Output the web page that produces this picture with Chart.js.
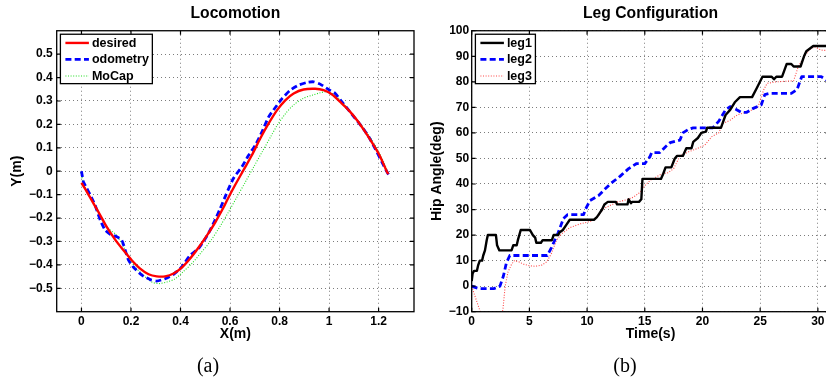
<!DOCTYPE html>
<html><head><meta charset="utf-8">
<script src="https://cdn.jsdelivr.net/npm/chart.js@4/dist/chart.umd.min.js"></script>
<style>
html,body{margin:0;padding:0;background:#fff;overflow:hidden;width:826px;height:383px;}
#wrap{position:relative;width:826px;height:383px;overflow:hidden;background:#fff;}
#c1{position:absolute;left:0;top:0;}
#c2{position:absolute;left:420px;top:0;}
.cap{position:absolute;font-family:"Liberation Serif","Times New Roman",serif;font-size:20px;line-height:20px;top:355px;transform:translateX(-50%);color:#000;white-space:nowrap;}
</style></head>
<body>
<div id="wrap">
<canvas id="c1" width="420" height="383"></canvas>
<canvas id="c2" width="420" height="383"></canvas>
<div class="cap" style="left:208px">(a)</div>
<div class="cap" style="left:625px">(b)</div>
</div>
<script>
// ---------- Locomotion (a) ----------
const locoTitle = 'Locomotion';
const locoXLabel = 'X(m)';
const locoYLabel = 'Y(m)';
const locoSeriesNames = ['desired', 'odometry', 'MoCap'];
const locoXTicks = [0, 0.2, 0.4, 0.6, 0.8, 1, 1.2];
const locoXTickLabels = ['0', '0.2', '0.4', '0.6', '0.8', '1', '1.2'];
const locoYTicks = [-0.5, -0.4, -0.3, -0.2, -0.1, 0, 0.1, 0.2, 0.3, 0.4, 0.5];
const locoYTickLabels = ['\u22120.5', '\u22120.4', '\u22120.3', '\u22120.2', '\u22120.1', '0', '0.1', '0.2', '0.3', '0.4', '0.5'];

const desiredX = [0, 0.022, 0.049, 0.076, 0.102, 0.136, 0.17, 0.203, 0.237, 0.271, 0.304, 0.338, 0.372, 0.405, 0.439, 0.473, 0.507, 0.541, 0.574, 0.587, 0.62, 0.654, 0.688, 0.722, 0.756, 0.79, 0.823, 0.857, 0.897, 0.944, 0.978, 1.012, 1.045, 1.079, 1.113, 1.146, 1.18, 1.207, 1.234, 1.24];
const desiredY = [-0.05, -0.088, -0.138, -0.188, -0.238, -0.292, -0.338, -0.38, -0.416, -0.44, -0.449, -0.449, -0.437, -0.412, -0.373, -0.326, -0.274, -0.217, -0.154, -0.126, -0.06, 0.004, 0.068, 0.14, 0.204, 0.261, 0.303, 0.332, 0.349, 0.352, 0.346, 0.328, 0.296, 0.261, 0.218, 0.168, 0.111, 0.061, -0.003, -0.012];

const odomX = [0, 0.004, 0.008, 0.022, 0.035, 0.055, 0.076, 0.096, 0.116, 0.143, 0.163, 0.177, 0.19, 0.21, 0.244, 0.278, 0.304, 0.338, 0.372, 0.405, 0.439, 0.473, 0.513, 0.537, 0.56, 0.584, 0.614, 0.648, 0.675, 0.702, 0.729, 0.756, 0.783, 0.81, 0.843, 0.877, 0.91, 0.937, 0.964, 0.998, 1.025, 1.052, 1.079, 1.106, 1.133, 1.16, 1.186, 1.213, 1.234, 1.247];
const odomY = [0, -0.024, -0.046, -0.074, -0.1, -0.145, -0.209, -0.252, -0.269, -0.28, -0.295, -0.338, -0.38, -0.41, -0.444, -0.463, -0.469, -0.459, -0.44, -0.409, -0.359, -0.33, -0.265, -0.214, -0.16, -0.1, -0.03, 0.019, 0.068, 0.111, 0.168, 0.232, 0.272, 0.31, 0.346, 0.368, 0.379, 0.382, 0.372, 0.349, 0.332, 0.296, 0.261, 0.225, 0.189, 0.147, 0.097, 0.04, -0.003, -0.027];

const mocapX = [-0.004, 0.015, 0.042, 0.076, 0.109, 0.143, 0.17, 0.19, 0.217, 0.25, 0.284, 0.311, 0.345, 0.379, 0.41, 0.445, 0.48, 0.52, 0.56, 0.594, 0.628, 0.662, 0.696, 0.73, 0.764, 0.791, 0.824, 0.856, 0.895, 0.933, 0.964, 0.991, 1.025, 1.058, 1.092, 1.126, 1.16, 1.193, 1.22, 1.24];
const mocapY = [-0.005, -0.067, -0.124, -0.195, -0.245, -0.274, -0.323, -0.366, -0.409, -0.444, -0.473, -0.48, -0.473, -0.459, -0.43, -0.395, -0.352, -0.3, -0.235, -0.174, -0.11, -0.046, 0.019, 0.083, 0.147, 0.197, 0.246, 0.282, 0.311, 0.325, 0.335, 0.339, 0.325, 0.289, 0.246, 0.204, 0.154, 0.097, 0.04, -0.01];

// ---------- Leg Configuration (b) ----------
const legTitle = 'Leg Configuration';
const legXLabel = 'Time(s)';
const legYLabel = 'Hip Angle(deg)';
const legSeriesNames = ['leg1', 'leg2', 'leg3'];
const legXTicks = [0, 5, 10, 15, 20, 25, 30];
const legXTickLabels = ['0', '5', '10', '15', '20', '25', '30'];
const legYTicks = [-10, 0, 10, 20, 30, 40, 50, 60, 70, 80, 90, 100];
const legYTickLabels = ['\u221210', '0', '10', '20', '30', '40', '50', '60', '70', '80', '90', '100'];

const leg1T = [0, 0.08, 0.2, 0.45, 0.55, 0.7, 0.9, 1.0, 1.15, 1.3, 1.4, 2.1, 2.2, 2.4, 3.45, 3.6, 3.9, 4.0, 4.25, 5.05, 5.3, 5.5, 5.6, 6.0, 6.15, 6.95, 7.1, 7.5, 7.6, 7.9, 8.2, 8.5, 10.6, 10.85, 11.0, 11.3, 11.5, 11.8, 12.5, 12.6, 13.5, 13.6, 13.8, 13.9, 14.5, 14.7, 14.8, 16.4, 16.6, 16.8, 17.3, 17.6, 17.8, 18.3, 18.6, 19.05, 19.2, 19.6, 19.9, 20.3, 20.4, 21.6, 22.0, 22.4, 22.8, 23.25, 24.3, 24.7, 25.2, 26.0, 26.2, 26.4, 26.9, 27.3, 27.7, 27.9, 28.5, 28.8, 29.0, 29.6, 31];
const leg1A = [2, 5, 6, 6, 8, 10, 10, 12, 14, 18, 20, 20, 16, 14, 14, 16, 16, 18, 22, 22, 20, 19, 17, 17, 18, 18, 20, 20, 21, 22, 24, 26, 26, 27, 28, 30, 32, 33, 33, 32, 32, 34, 32.5, 33, 33, 34, 42, 42, 44, 46.5, 46.5, 50, 51, 51, 54, 54, 56.5, 58, 60, 60.5, 62, 62, 67, 69, 72, 74, 74, 77.5, 82, 82, 81, 82, 82, 87, 87, 86, 86, 90, 92, 94, 94];

const leg2T = [0, 0.3, 0.7, 1.9, 2.45, 2.75, 3.0, 3.3, 6.55, 6.9, 7.5, 7.95, 8.3, 9.7, 9.85, 10.25, 11.0, 11.55, 12.0, 12.85, 13.6, 14.3, 15.0, 15.45, 15.6, 16.3, 16.8, 17.2, 18.05, 18.3, 18.8, 19.2, 20.9, 21.4, 22.0, 22.4, 23.0, 23.4, 23.8, 24.4, 25.1, 25.4, 25.85, 27.7, 28.2, 28.6, 30.3, 31];
const leg2A = [0, -0.5, -1, -1, 0, 4, 9, 12, 12, 15, 21, 26.5, 28, 28, 30, 33.5, 35.5, 38, 40, 43, 46, 48, 48, 50.7, 52.3, 52.3, 54.6, 56.2, 57.2, 60, 61.4, 62, 62, 64.5, 69, 70.3, 69, 68, 68, 69.6, 71, 75, 75.5, 75.5, 77, 82, 82, 80];

const leg3T = [0, 0.4, 0.7, 0.85, 2.5, 2.7, 2.9, 3.15, 3.45, 3.7, 4.1, 4.5, 5.0, 5.5, 6.05, 6.5, 6.9, 7.35, 7.8, 8.5, 9.4, 10.25, 10.6, 11.0, 11.4, 12.0, 12.6, 13.4, 14.0, 14.6, 15.0, 15.5, 16.5, 17.0, 17.5, 18.05, 18.8, 19.6, 20.2, 20.8, 21.4, 21.8, 22.4, 23.0, 23.7, 24.3, 24.8, 25.3, 25.6, 26.4, 27.9, 28.3, 28.8, 29.3, 29.7, 30.3, 31];
const leg3A = [0, -5.5, -9.4, -12, -12, -9.4, 0, 5.6, 8.5, 10, 9.5, 8.6, 8, 7.8, 8.2, 9.5, 12.7, 18, 20.5, 22.9, 24.4, 25.3, 26, 27.7, 30.3, 31.6, 32.9, 33.8, 34.8, 36.8, 39.4, 41.5, 44, 44.4, 46, 51, 52.6, 54, 55.2, 58.5, 60, 63.7, 65, 67, 68, 69, 70, 76.8, 79.4, 80, 80.4, 86, 89.8, 92.7, 93.7, 92.4, 92.2];

// ---------- helpers ----------
const pts = (xs, ys) => xs.map((x, i) => ({x: x, y: ys[i]}));
const FONT = '"Liberation Sans", Arial, Helvetica, sans-serif';

const matlabPlugin = {
  id: 'matlabBox',
  afterDatasetsDraw(chart) {
    const {ctx, chartArea: a, scales} = chart;
    ctx.save();
    ctx.strokeStyle = '#000';
    ctx.lineWidth = 1.2;
    ctx.setLineDash([]);
    const L = 4;
    ctx.beginPath();
    scales.x.ticks.forEach(t => {
      const px = scales.x.getPixelForValue(t.value);
      ctx.moveTo(px, a.bottom); ctx.lineTo(px, a.bottom - L);
      ctx.moveTo(px, a.top); ctx.lineTo(px, a.top + L);
    });
    scales.y.ticks.forEach(t => {
      const py = scales.y.getPixelForValue(t.value);
      ctx.moveTo(a.left, py); ctx.lineTo(a.left + L, py);
      ctx.moveTo(a.right, py); ctx.lineTo(a.right - L, py);
    });
    ctx.stroke();
    ctx.lineWidth = 1.3;
    ctx.strokeRect(a.left, a.top, a.right - a.left, a.bottom - a.top);
    ctx.restore();
  },
  afterDraw(chart) {
    const {ctx, chartArea: a} = chart;
    const ds = chart.data.datasets;
    ctx.save();
    ctx.font = 'bold 12.5px ' + FONT;
    const tw = Math.max(...ds.map(d => ctx.measureText(d.label).width));
    const bx = a.left + 3.7, by = a.top + 3.5, bw = 31.5 + tw + 3.5, bh = 49.4;
    ctx.fillStyle = '#fff';
    ctx.fillRect(bx, by, bw, bh);
    ctx.strokeStyle = '#000';
    ctx.lineWidth = 1.3;
    ctx.strokeRect(bx, by, bw, bh);
    ds.forEach((d, i) => {
      const y = by + 8.7 + i * 16.5;
      ctx.beginPath();
      ctx.setLineDash(d.borderDash || []);
      ctx.strokeStyle = d.borderColor;
      ctx.lineWidth = d.borderWidth;
      ctx.moveTo(bx + 5, y); ctx.lineTo(bx + 28.5, y);
      ctx.stroke();
      ctx.setLineDash([]);
      ctx.fillStyle = '#000';
      ctx.textBaseline = 'middle';
      ctx.textAlign = 'left';
      ctx.fillText(d.label, bx + 31.5, y + 0.5);
    });
    ctx.restore();
  }
};

function makeOptions(cfg) {
  return {
    responsive: false,
    animation: false,
    events: [],
    devicePixelRatio: 1,
    layout: {padding: {left: 0, top: 0, right: cfg.padRight, bottom: 40.3}},
    plugins: {
      legend: {display: false},
      tooltip: {enabled: false},
      title: {
        display: true, text: cfg.title, fullSize: false, color: '#000',
        font: {family: FONT, size: 15.7, weight: 'bold'},
        padding: {top: 3.8, bottom: 8.1}
      }
    },
    scales: {
      x: {
        type: 'linear', position: 'bottom', min: cfg.xMin, max: cfg.xMax,
        afterBuildTicks: s => { s.ticks = cfg.xTicks.map(v => ({value: v})); },
        afterFit: s => { s.height = 31; },
        ticks: {
          autoSkip: false, maxRotation: 0, minRotation: 0, padding: 3, color: '#000',
          font: {family: FONT, size: 12, weight: 'bold'},
          callback: (v, i) => cfg.xTickLabels[i]
        },
        grid: {color: 'rgba(110,110,110,0.9)', lineWidth: 1, drawTicks: false},
        border: {display: false, dash: [1, 3]},
        title: {display: true, text: cfg.xLabel, color: '#000', font: {family: FONT, size: 14, weight: 'bold'}, padding: {top: 0, bottom: 0}}
      },
      y: {
        type: 'linear', position: 'left', min: cfg.yMin, max: cfg.yMax,
        afterBuildTicks: s => { s.ticks = cfg.yTicks.map(v => ({value: v})); },
        afterFit: s => { s.width = cfg.yWidth; },
        ticks: {
          autoSkip: false, padding: cfg.yPad, color: '#000',
          font: {family: FONT, size: 12, weight: 'bold'},
          callback: (v, i) => cfg.yTickLabels[i]
        },
        grid: {color: 'rgba(110,110,110,0.9)', lineWidth: 1, drawTicks: false},
        border: {display: false, dash: [1, 3]},
        title: {display: true, text: cfg.yLabel, color: '#000', font: {family: FONT, size: 14, weight: 'bold'}, padding: {top: 9, bottom: 0}}
      }
    }
  };
}

const lineBase = {showLine: true, pointRadius: 0, fill: false, borderJoinStyle: 'round', borderCapStyle: 'butt'};

new Chart(document.getElementById('c1'), {
  type: 'scatter',
  data: {
    datasets: [
      Object.assign({label: locoSeriesNames[0], data: pts(desiredX, desiredY), borderColor: '#ff0000', backgroundColor: '#ff0000', borderWidth: 2.4, tension: 0.3}, lineBase),
      Object.assign({label: locoSeriesNames[1], data: pts(odomX, odomY), borderColor: '#0000ff', backgroundColor: '#0000ff', borderWidth: 2.8, borderDash: [6, 3.3], tension: 0.2}, lineBase),
      Object.assign({label: locoSeriesNames[2], data: pts(mocapX, mocapY), borderColor: '#22dd22', backgroundColor: '#22dd22', borderWidth: 1.1, borderDash: [1, 1.6], tension: 0.3}, lineBase)
    ]
  },
  options: makeOptions({
    title: locoTitle, xLabel: locoXLabel, yLabel: locoYLabel, padRight: 6,
    xMin: -0.1, xMax: 1.343, yMin: -0.6, yMax: 0.6,
    xTicks: locoXTicks, xTickLabels: locoXTickLabels, yTicks: locoYTicks, yTickLabels: locoYTickLabels,
    yWidth: 56.7, yPad: 4
  }),
  plugins: [matlabPlugin]
});

new Chart(document.getElementById('c2'), {
  type: 'scatter',
  data: {
    datasets: [
      Object.assign({label: legSeriesNames[0], data: pts(leg1T, leg1A), borderColor: '#000000', backgroundColor: '#000000', borderWidth: 2.4, tension: 0}, lineBase),
      Object.assign({label: legSeriesNames[1], data: pts(leg2T, leg2A), borderColor: '#0000ff', backgroundColor: '#0000ff', borderWidth: 2.8, borderDash: [6, 3.3], tension: 0}, lineBase),
      Object.assign({label: legSeriesNames[2], data: pts(leg3T, leg3A), borderColor: '#ff4848', backgroundColor: '#ff4848', borderWidth: 1.1, borderDash: [1, 1.6], tension: 0}, lineBase)
    ]
  },
  options: makeOptions({
    title: legTitle, xLabel: legXLabel, yLabel: legYLabel, padRight: 10.6,
    xMin: 0, xMax: 31, yMin: -10, yMax: 100,
    xTicks: legXTicks, xTickLabels: legXTickLabels, yTicks: legYTicks, yTickLabels: legYTickLabels,
    yWidth: 51.7, yPad: 2.5
  }),
  plugins: [matlabPlugin]
});
</script>
</body></html>
